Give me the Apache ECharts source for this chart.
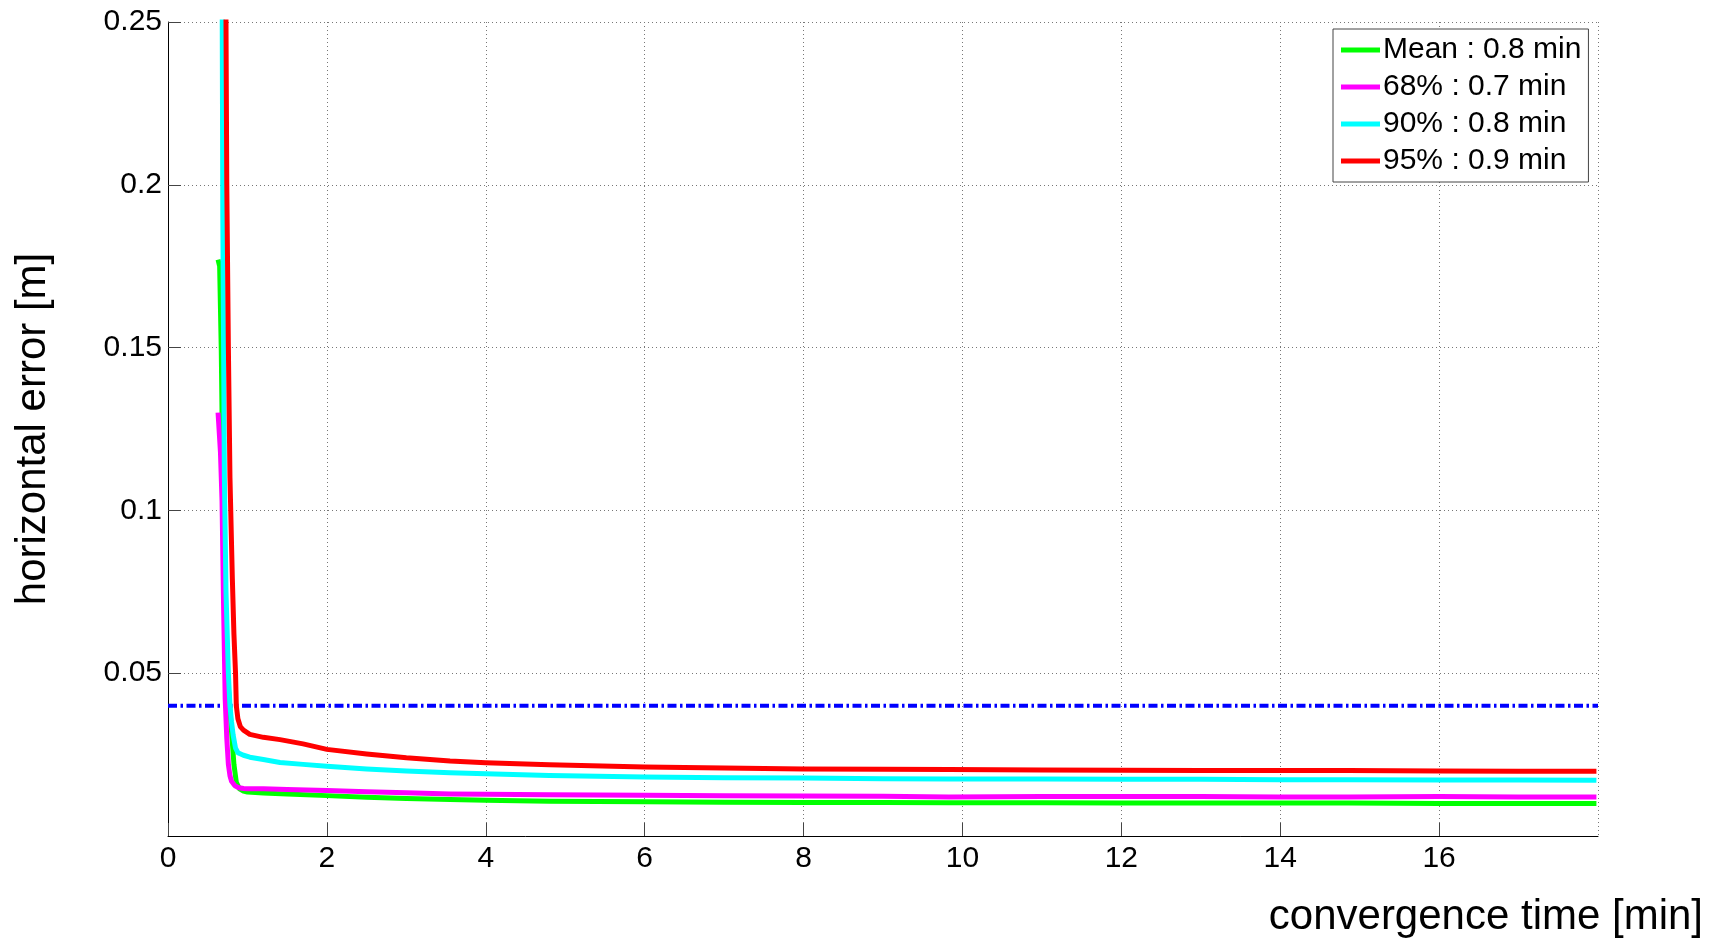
<!DOCTYPE html>
<html>
<head>
<meta charset="utf-8">
<script src="https://cdn.jsdelivr.net/npm/echarts@6/dist/echarts.min.js"></script>
<style>
html,body{margin:0;padding:0;background:#fff;}
#chart{width:1719px;height:938px;}
</style>
</head>
<body>
<div id="chart"></div>
<script>
// ---- data ----
const seriesNames = ['Mean : 0.8 min', '68% : 0.7 min', '90% : 0.8 min', '95% : 0.9 min'];
const seriesColors = ['#00ff00', '#ff00ff', '#00ffff', '#ff0000'];

const meanX = [0.63,0.65,0.67,0.69,0.71,0.74,0.77,0.80,0.83,0.86,0.90,0.95,1.0,1.2,1.5,2,2.5,3,3.55,4,4.8,6,7,8,9,9.83,11,12,13,14,14.86,16,17,17.98];
const meanY = [0.177,0.175,0.15,0.11,0.075,0.052,0.042,0.032,0.022,0.0165,0.0145,0.0138,0.0135,0.0132,0.0129,0.0124,0.0119,0.0115,0.0112,0.0110,0.0107,0.0105,0.0104,0.0103,0.0103,0.0102,0.0102,0.0101,0.0101,0.0101,0.0101,0.0100,0.0100,0.0100];

const p68X = [0.63,0.66,0.68,0.70,0.72,0.74,0.76,0.78,0.80,0.84,0.88,0.95,1.0,1.2,1.5,2,2.5,3,3.55,4,4.8,6,7,8,9,9.83,11,12,13,14,14.86,16,17,17.98];
const p68Y = [0.13,0.118,0.103,0.07,0.042,0.030,0.022,0.0185,0.0168,0.0155,0.0149,0.0146,0.0145,0.0145,0.0143,0.0140,0.0136,0.0133,0.0129,0.0128,0.0127,0.0125,0.0124,0.0123,0.0122,0.0120,0.0121,0.0121,0.0121,0.0120,0.0120,0.0121,0.0120,0.0120];

const p90X = [0.68,0.69,0.70,0.71,0.73,0.76,0.78,0.80,0.82,0.85,0.88,0.95,1.03,1.2,1.41,1.7,2,2.5,3,3.55,4,4.8,6,7,8,9,9.83,11,12,13,14,14.86,16,17,17.98];
const p90Y = [0.27,0.19,0.15,0.11,0.075,0.05,0.04,0.035,0.031,0.027,0.0256,0.0248,0.0242,0.0235,0.0226,0.0220,0.0214,0.0206,0.0200,0.0194,0.0191,0.0186,0.0181,0.0179,0.0178,0.0176,0.0175,0.0175,0.0174,0.0174,0.0173,0.0173,0.0172,0.0172,0.0171];

const p95X = [0.72,0.73,0.74,0.76,0.78,0.81,0.83,0.85,0.86,0.88,0.91,0.95,1.03,1.2,1.41,1.7,2,2.5,3,3.55,4,4.8,6,7,8,9,9.83,11,12,13,14,14.86,16,17,17.98];
const p95Y = [0.27,0.25,0.2,0.15,0.11,0.079,0.062,0.05,0.04,0.036,0.0336,0.0325,0.0312,0.0303,0.0296,0.0283,0.0266,0.0252,0.0240,0.0230,0.0225,0.0219,0.0212,0.0209,0.0206,0.0205,0.0204,0.0203,0.0202,0.0201,0.0201,0.0201,0.0200,0.0199,0.0199];

const thresholdX = [0, 18];
const thresholdY = [0.04, 0.04];

const xAxisMin = 0, xAxisMax = 18, xAxisStep = 2;
const yAxisMin = 0, yAxisMax = 0.25, yAxisStep = 0.05;
const xAxisTitle = 'convergence time [min]';
const yAxisTitle = 'horizontal error [m]';

// ---- build ----
const zip = (xs, ys) => xs.map((x, i) => [x, ys[i]]);
const allX = [meanX, p68X, p90X, p95X];
const allY = [meanY, p68Y, p90Y, p95Y];

const FONT = 'Liberation Sans, Arial, Helvetica, sans-serif';

const series = seriesNames.map((name, i) => ({
  name: name,
  type: 'line',
  data: zip(allX[i], allY[i]),
  showSymbol: false,
  symbol: 'none',
  clip: true,
  lineStyle: { color: seriesColors[i], width: 5, join: 'round' },
  itemStyle: { color: seriesColors[i] },
  z: 3 + i
}));

series.push({
  name: 'threshold',
  type: 'line',
  data: zip(thresholdX, thresholdY),
  showSymbol: false,
  symbol: 'none',
  lineStyle: { color: '#0000ff', width: 4, type: [9, 3.5, 2.5, 3.5] },
  itemStyle: { color: '#0000ff' },
  z: 2
});

const chart = echarts.init(document.getElementById('chart'), null, { renderer: 'canvas' });
chart.setOption({
  animation: false,
  backgroundColor: '#ffffff',
  grid: { left: 168, right: 121, top: 22, bottom: 102, containLabel: false },
  legend: {
    data: seriesNames,
    orient: 'vertical',
    left: 1333,
    top: 29,
    padding: [4, 7, 4, 8],
    itemGap: 3,
    itemWidth: 39,
    itemHeight: 5,
    icon: 'rect',
    borderColor: '#444',
    borderWidth: 1,
    backgroundColor: '#ffffff',
    textStyle: { fontFamily: FONT, fontSize: 30, color: '#000', lineHeight: 34, padding: [0, 0, 0, -2] }
  },
  xAxis: {
    type: 'value',
    min: xAxisMin, max: xAxisMax, interval: xAxisStep,
    name: xAxisTitle,
    nameLocation: 'end',
    nameGap: 105,
    nameTextStyle: { fontFamily: FONT, fontSize: 42, color: '#000', align: 'right', verticalAlign: 'top', padding: [60, 0, 0, 0] },
    axisLine: { show: true, onZero: false, lineStyle: { color: '#000', width: 1 } },
    axisTick: { show: true, inside: true, length: 13, lineStyle: { color: '#444', width: 1 } },
    axisLabel: { show: true, showMaxLabel: false, margin: 8, fontFamily: FONT, fontSize: 30, color: '#000' },
    splitLine: { show: true, lineStyle: { color: '#777', width: 1, type: [1, 3] } }
  },
  yAxis: {
    type: 'value',
    min: yAxisMin, max: yAxisMax, interval: yAxisStep,
    name: yAxisTitle,
    nameLocation: 'middle',
    nameGap: 114,
    nameTextStyle: { fontFamily: FONT, fontSize: 42, color: '#000' },
    axisLine: { show: true, onZero: false, lineStyle: { color: '#000', width: 1 } },
    axisTick: { show: true, inside: true, length: 13, lineStyle: { color: '#444', width: 1 } },
    axisLabel: { show: true, showMinLabel: false, margin: 6, fontFamily: FONT, fontSize: 30, color: '#000' },
    splitLine: { show: true, lineStyle: { color: '#777', width: 1, type: [1, 3] } }
  },
  series: series
});
</script>
</body>
</html>
